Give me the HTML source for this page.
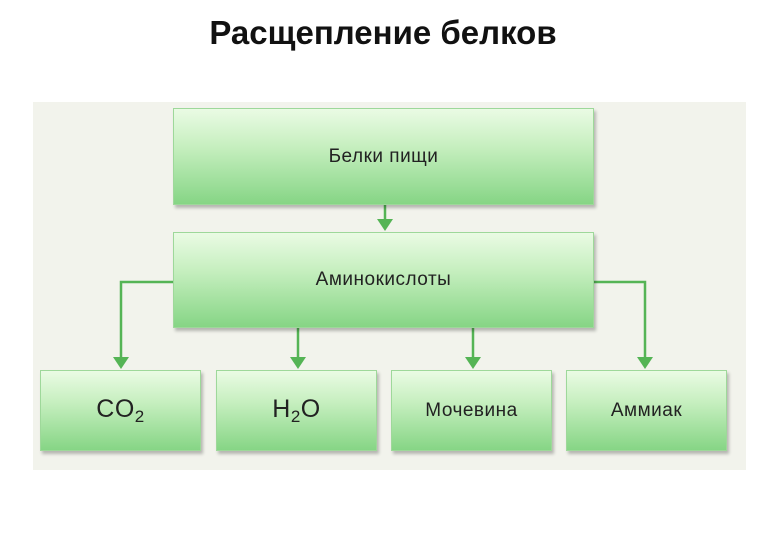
<!DOCTYPE html>
<html><head><meta charset="utf-8"><style>
body{margin:0;width:778px;height:546px;background:#fff;position:relative;font-family:"Liberation Sans",sans-serif;overflow:hidden}
.t{position:absolute;left:0;width:766px;top:14px;text-align:center;font-size:33px;font-weight:bold;color:#111}
.p{position:absolute;left:33px;top:102px;width:713px;height:368px;background:#f2f3ec}
.b{position:absolute;box-sizing:border-box;background:linear-gradient(#eafbe4,#c6efbf 40%,#86d585);border:1px solid #9ed89a;box-shadow:2px 3px 3px rgba(0,0,0,0.25);display:flex;align-items:center;justify-content:center;color:#222;font-size:19px;letter-spacing:0.5px}
.s{font-size:25px}
.s sub{font-size:17px;vertical-align:-5px}
svg{position:absolute;left:0;top:0}
</style></head><body>
<div class="t">Расщепление белков</div>
<div class="p"></div>
<svg width="778" height="546">
<g stroke="#55b455" stroke-width="2.5" fill="none">
<line x1="385" y1="205" x2="385" y2="222"/>
<polyline points="173,282 121,282 121,360"/>
<line x1="298" y1="328" x2="298" y2="360"/>
<line x1="473" y1="328" x2="473" y2="360"/>
<polyline points="593,282 645,282 645,360"/>
</g>
<g fill="#55b455">
<polygon points="377,219 393,219 385,231"/>
<polygon points="113,357 129,357 121,369"/>
<polygon points="290,357 306,357 298,369"/>
<polygon points="465,357 481,357 473,369"/>
<polygon points="637,357 653,357 645,369"/>
</g>
</svg>
<div class="b" style="left:173px;top:108px;width:421px;height:97px">Белки пищи</div>
<div class="b" style="left:173px;top:232px;width:421px;height:96px">Аминокислоты</div>
<div class="b s" style="left:40px;top:370px;width:161px;height:81px"><span>CO<sub>2</sub></span></div>
<div class="b s" style="left:216px;top:370px;width:161px;height:81px"><span>H<sub>2</sub>O</span></div>
<div class="b" style="left:391px;top:370px;width:161px;height:81px">Мочевина</div>
<div class="b" style="left:566px;top:370px;width:161px;height:81px">Аммиак</div>
</body></html>
